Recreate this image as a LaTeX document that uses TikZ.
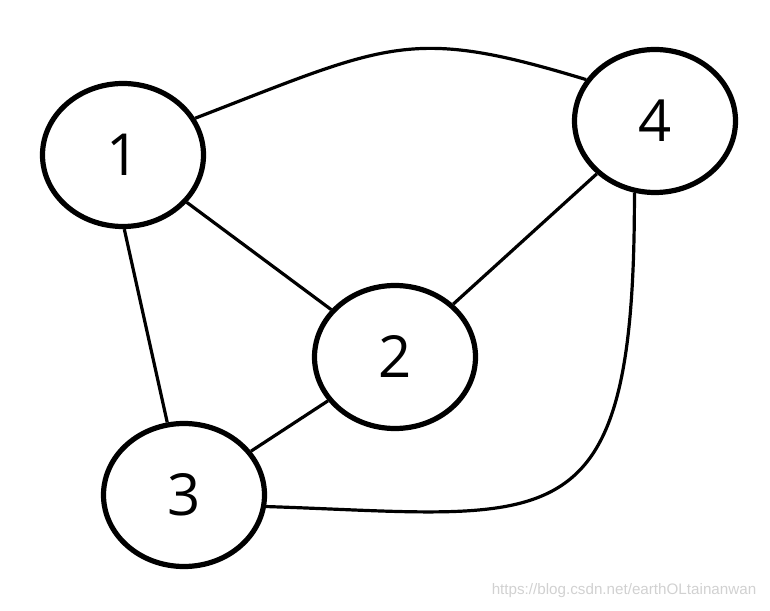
\documentclass[tikz,border=0pt]{standalone}
\usepackage{fontspec}
\setmainfont{Open Sans}
\newfontfamily\urlfont{Liberation Sans}
\usetikzlibrary{shapes.geometric}

\begin{document}
\begin{tikzpicture}[x=0.5pt, y=0.5pt,
    line width=1.6pt,
    vertex/.style={ellipse, draw, line width=2.6pt,
    minimum width=80.5pt, minimum height=71.5pt, inner sep=0pt,
    font=\fontsize{29}{30}\selectfont},
    watermark/.style={text=black!18, font=\urlfont\fontsize{7.6}{8}\selectfont}
    ]
\useasboundingbox (0,0) rectangle (770,610);
\node[vertex] (V1) at (123,455) {1};
\node[vertex] (V2) at (395,253) {2};
\node[vertex] (V3) at (184,115) {3};
\node[vertex] (V4) at (655,489) {4};
\node[watermark] (W) at (624,19) {https://blog.csdn.net/earthOLtainanwan};
\draw (V1.27) .. controls (390,567) and (410,584) .. (V4.149);
\draw (V1) -- (V2);
\draw (V1.-89) -- (V3.103);
\draw (V2) -- (V4);
\draw (V2) -- (V3);
\draw (V4.254) .. controls (635,60) and (555,94) .. (V3.-8);
\end{tikzpicture}
\end{document}
